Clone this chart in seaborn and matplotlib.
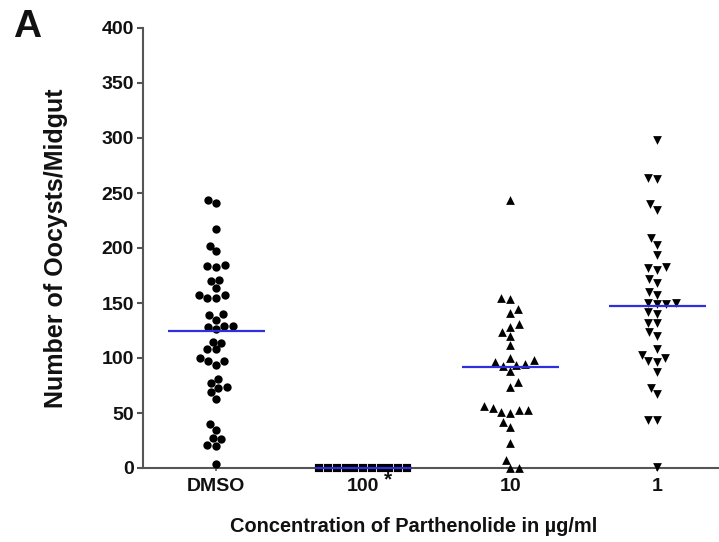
import numpy as np
import pandas as pd
import matplotlib
matplotlib.use("Agg")
import matplotlib.pyplot as plt
import seaborn as sns

categories = ["DMSO", "100", "10", "1"]
dmso = [241, 244, 217, 197, 202, 184, 183, 185, 171, 164, 170, 157, 155, 155, 157,
        139, 140, 135, 129, 128, 126, 129, 114, 108, 108, 115, 100, 97, 94, 97,
        77, 73, 69, 74, 81, 63, 35, 40, 27, 21, 20, 26, 4]
hundred = [0, 0, 0, 0, 0, 0, 0, 0, 0, 0, 0]
ten = [244, 154, 155, 145, 141, 131, 128, 124, 120, 112, 100, 98, 95, 94, 93, 96,
       88, 78, 74, 56, 53, 51, 50, 53, 55, 42, 37, 23, 7, 0, 0]
one = [298, 264, 263, 235, 240, 209, 203, 194, 182, 180, 183, 172, 168, 160, 157,
       150, 149, 149, 150, 142, 140, 132, 132, 120, 124, 103, 108, 96, 97, 100,
       87, 67, 73, 44, 44, 1]
center_lines = [125, 0, 92, 147]
yticks = [0, 50, 100, 150, 200, 250, 300, 350, 400]

series = [dmso, hundred, ten, one]
markers = ["o", "s", "^", "v"]
sizes = [6, 3, 6.3, 6.3]
edges = [0, 3, 0, 0]

sns.set_theme(style="ticks")
plt.rcParams["font.family"] = ["Liberation Sans", "DejaVu Sans"]
plt.rcParams["font.weight"] = "bold"

fig = plt.figure(figsize=(7.19, 5.42), dpi=100)
ax = fig.add_axes([143 / 719, 1 - 468 / 542, 1 - 143 / 719, 440 / 542])

for cat, vals, mk, sz, ew in zip(categories, series, markers, sizes, edges):
    df = pd.DataFrame({"group": [cat] * len(vals), "value": vals})
    sns.swarmplot(data=df, x="group", y="value", order=categories, marker=mk,
                  color="black", edgecolor="black", size=sz, linewidth=ew,
                  ax=ax, clip_on=False, zorder=3)

for coll in ax.collections:
    coll.set_clip_on(False)
    coll.set_joinstyle("miter")

pos = np.arange(len(categories))
ax.hlines(center_lines, pos - 0.33, pos + 0.33, colors="#2f2fdd", linewidth=1.6,
          zorder=4, clip_on=False)

ax.set_xlim(-0.497, 3.42)
ax.set_ylim(0, 400)
ax.set_yticks(yticks)
ax.set_yticklabels([str(v) for v in yticks])
ax.set_xticks(pos)
ax.set_xticklabels(categories)

sns.despine(ax=ax)
for s in ["left", "bottom"]:
    ax.spines[s].set_color("#555555")
    ax.spines[s].set_linewidth(1.5)
ax.tick_params(axis="y", length=4.5, width=1.5, color="#555555", pad=2,
               labelsize=14, labelcolor="#111111")
ax.tick_params(axis="x", length=2.5, width=1.2, color="#555555", pad=4.5,
               labelsize=14, labelcolor="#111111")
for lab in ax.get_xticklabels() + ax.get_yticklabels():
    lab.set_fontweight("bold")

ax.annotate("*", xy=(1.17, 0), xycoords=ax.get_xaxis_transform(),
            xytext=(0, -1.5), textcoords="offset points", ha="center", va="top",
            fontsize=15, fontweight="bold", color="#111111")

ax.set_xlabel("Concentration of Parthenolide in µg/ml", fontsize=14.4,
              fontweight="bold", color="#111111")
ax.xaxis.set_label_coords(0.469, -0.132)
ax.xaxis.label.set_va("center")
ax.set_ylabel("Number of Oocysts/Midgut", fontsize=18, fontweight="bold",
              color="#111111")
ax.yaxis.set_label_coords(-0.151, 0.5)
ax.yaxis.label.set_va("center")

fig.text(27 / 719, 1 - 27 / 542, "A", fontsize=28, fontweight="bold",
         ha="center", va="center", color="#111111")

fig.savefig("out.png", dpi=100)
